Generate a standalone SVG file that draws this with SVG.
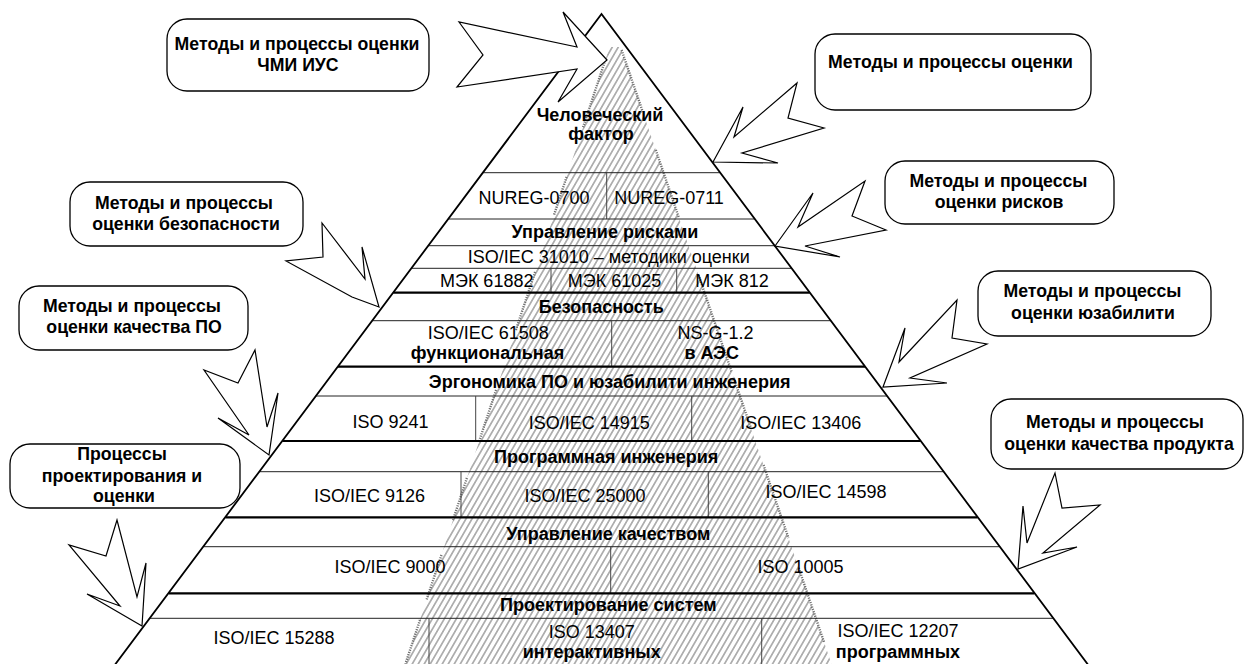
<svg xmlns="http://www.w3.org/2000/svg" width="1244" height="664" viewBox="0 0 1244 664">
<defs>
<pattern id="hp" width="5.2" height="5.2" patternUnits="userSpaceOnUse" patternTransform="rotate(30)">
<line x1="2.6" y1="0" x2="2.6" y2="5.2" stroke="#7e7e7e" stroke-width="1.1"/>
</pattern>
</defs>
<style>
text{font-family:"Liberation Sans",Arial,sans-serif;fill:#000;text-anchor:middle}
.b{font-weight:bold;font-size:18px}
.bx{font-weight:bold;font-size:17.7px}
.r{font-size:18px}
.edge{fill:none;stroke:#000;stroke-width:1.8}
.thin{stroke:#222;stroke-width:1}
.thick{stroke:#000;stroke-width:2.2}
.dv{stroke:#444;stroke-width:1}
.hb{fill:none;stroke:#707070;stroke-width:2.4;stroke-dasharray:1.2 1.2}
.box{fill:#fff;stroke:#000;stroke-width:1.3}
.arr{fill:#fff;stroke:#000;stroke-width:1.2;stroke-linejoin:miter}
</style>
<rect width="1244" height="664" fill="#fff"/>

<g id="pyramid">
<polygon points="601.5,14 111,670 1092,670" fill="#fff"/>
</g>

<g id="hatch">
<polygon points="609.6,47 620.6,47 833.6,670 403.4,670" fill="url(#hp)"/>
<line class="hb" x1="605.3" y1="60" x2="582.8" y2="128"/>
<line class="hb" x1="566.6" y1="177" x2="554.0" y2="215"/>
<line class="hb" x1="535.1" y1="272" x2="515.9" y2="330"/>
<line class="hb" x1="496.1" y1="390" x2="478.9" y2="442"/>
<line class="hb" x1="466.9" y1="478" x2="453.0" y2="520"/>
<line class="hb" x1="441.5" y1="555" x2="426.5" y2="600"/>
<line class="hb" x1="420.0" y1="620" x2="405.4" y2="664"/>
<line class="hb" x1="621.6" y1="50" x2="642.8" y2="112"/>
<line class="hb" x1="655.8" y1="150" x2="679.0" y2="218"/>
<line class="hb" x1="698.5" y1="275" x2="731.7" y2="372"/>
<line class="hb" x1="733.8" y1="378" x2="750.9" y2="428"/>
<line class="hb" x1="763.5" y1="465" x2="788.5" y2="538"/>
<line class="hb" x1="798.7" y1="568" x2="824.0" y2="642"/>
</g>

<g id="layer-human">
<line class="thin" x1="483" y1="172.7" x2="720" y2="172.7"/>
<line class="dv" x1="606.7" y1="172.7" x2="606.7" y2="219"/>
<text class="b" x="600" y="121">Человеческий</text>
<text class="b" x="601" y="140">фактор</text>
<text class="r" x="534" y="204">NUREG-0700</text>
<text class="r" x="669" y="204">NUREG-0711</text>
</g>

<g id="layer-risk">
<line class="thin" x1="448.4" y1="219" x2="754.6" y2="219"/>
<line class="thin" x1="428.4" y1="245.7" x2="774.6" y2="245.7"/>
<line class="thin" x1="411.5" y1="268.3" x2="791.5" y2="268.3"/>
<line class="dv" x1="551" y1="268.3" x2="551" y2="292.7"/>
<line class="dv" x1="676.7" y1="268.3" x2="676.7" y2="292.7"/>
<text class="b" x="605" y="237.5">Управление рисками</text>
<text class="r" x="608.7" y="263">ISO/IEC 31010 – методики оценки</text>
<text class="r" x="486.7" y="287">МЭК 61882</text>
<text class="r" x="614.5" y="287">МЭК 61025</text>
<text class="r" x="732" y="287">МЭК 812</text>
</g>

<g id="layer-safety">
<line class="thick" x1="393.3" y1="292.7" x2="809.7" y2="292.7"/>
<line class="thin" x1="372.4" y1="320.7" x2="830.6" y2="320.7"/>
<line class="dv" x1="611.7" y1="320.7" x2="611.7" y2="366.7"/>
<text class="b" x="601.3" y="312.7">Безопасность</text>
<text class="r" x="488.3" y="339">ISO/IEC 61508</text>
<text class="b" x="487.5" y="359">функциональная</text>
<text class="r" x="715.5" y="339">NS-G-1.2</text>
<text class="b" x="711.7" y="359">в АЭС</text>
</g>

<g id="layer-ergonomics">
<line class="thick" x1="338" y1="366.7" x2="865" y2="366.7"/>
<line class="thin" x1="316.1" y1="396" x2="886.9" y2="396"/>
<line class="dv" x1="475.7" y1="396" x2="475.7" y2="441"/>
<line class="dv" x1="691.7" y1="396" x2="691.7" y2="441"/>
<text class="b" x="609.7" y="388.3">Эргономика ПО и юзабилити инженерия</text>
<text class="r" x="390.5" y="428">ISO 9241</text>
<text class="r" x="589.2" y="429">ISO/IEC 14915</text>
<text class="r" x="800.8" y="429">ISO/IEC 13406</text>
</g>

<g id="layer-software">
<line class="thick" x1="282.5" y1="441" x2="920.5" y2="441"/>
<line class="thin" x1="259.6" y1="471.7" x2="943.4" y2="471.7"/>
<line class="dv" x1="461" y1="471.7" x2="461" y2="517.3"/>
<line class="dv" x1="708.3" y1="471.7" x2="708.3" y2="517.3"/>
<text class="b" x="606.2" y="463.3">Программная инженерия</text>
<text class="r" x="369.5" y="501.5">ISO/IEC 9126</text>
<text class="r" x="585" y="501.5">ISO/IEC 25000</text>
<text class="r" x="826" y="498">ISO/IEC 14598</text>
</g>

<g id="layer-quality">
<line class="thick" x1="225.5" y1="517.3" x2="977.5" y2="517.3"/>
<line class="thin" x1="203.6" y1="546.7" x2="999.4" y2="546.7"/>
<line class="dv" x1="610.7" y1="546.7" x2="610.7" y2="593.3"/>
<text class="b" x="608.3" y="540">Управление качеством</text>
<text class="r" x="390" y="573.3">ISO/IEC 9000</text>
<text class="r" x="800.5" y="573.3">ISO 10005</text>
</g>

<g id="layer-systems">
<line class="thick" x1="168.8" y1="593.3" x2="1034.2" y2="593.3"/>
<line class="thin" x1="150.1" y1="618.3" x2="1052.9" y2="618.3"/>
<line class="dv" x1="429" y1="618.3" x2="429" y2="664"/>
<line class="dv" x1="761.7" y1="618.3" x2="761.7" y2="664"/>
<text class="b" x="608.3" y="610.7">Проектирование систем</text>
<text class="r" x="274" y="644">ISO/IEC 15288</text>
<text class="r" x="591.7" y="638.3">ISO 13407</text>
<text class="b" x="591.7" y="658">интерактивных</text>
<text class="r" x="898" y="637">ISO/IEC 12207</text>
<text class="b" x="898" y="658">программных</text>
</g>

<g id="pyramid-edges">
<polyline class="edge" points="111,670 601.5,14 1092,670"/>
</g>

<g id="connectors">
<polygon class="arr" points="607,60 563,12 577,47 459,22 483,55 457,87 577,69 558,102"/>
<polygon class="arr" points="713,162 743,107 734,137 797,83 788,118 824,128 742,153 778,163"/>
<polygon class="arr" points="775,246 813,193 798,227 865,181 852,216 886,230 805,246 840,257"/>
<polygon class="arr" points="883,387 905,328 899,362 957,300 952,338 987,344 910,378 947,383"/>
<polygon class="arr" points="1018,569 1023,506 1027,543 1055,473 1062,508 1100,505 1043,553 1077,547"/>
<polygon class="arr" points="379,307 352,297 286,261 323,257 322,223 365,279 362,247"/>
<polygon class="arr" points="269,455 278,393 267,427 255,350 238,383 204,370 249,435 218,418"/>
<polygon class="arr" points="142,626 146,563 137,597 117,520 106,556 69,545 120,606 87,594"/>
</g>

<g id="box-hmi">
<rect class="box" x="167" y="19" width="262" height="72" rx="20"/>
<text class="bx" x="297" y="50">Методы и процессы оценки</text>
<text class="bx" x="298" y="71">ЧМИ ИУС</text>
</g>
<g id="box-eval">
<rect class="box" x="815" y="34" width="276" height="76" rx="20"/>
<text class="bx" x="950.5" y="68">Методы и процессы оценки</text>
</g>
<g id="box-risk">
<rect class="box" x="885" y="161" width="229" height="63" rx="20"/>
<text class="bx" x="998.5" y="187">Методы и процессы</text>
<text class="bx" x="999" y="208">оценки рисков</text>
</g>
<g id="box-usability">
<rect class="box" x="978" y="271" width="233" height="65" rx="20"/>
<text class="bx" x="1092.5" y="297">Методы и процессы</text>
<text class="bx" x="1093" y="318.5">оценки юзабилити</text>
</g>
<g id="box-product">
<rect class="box" x="991" y="399" width="252" height="70" rx="20"/>
<text class="bx" x="1115" y="428">Методы и процессы</text>
<text class="bx" x="1119" y="449.5">оценки качества продукта</text>
</g>
<g id="box-safety">
<rect class="box" x="70" y="182" width="233" height="64" rx="20"/>
<text class="bx" x="184" y="208.5">Методы и процессы</text>
<text class="bx" x="186" y="230">оценки безопасности</text>
</g>
<g id="box-swquality">
<rect class="box" x="19" y="286" width="229" height="64" rx="20"/>
<text class="bx" x="132" y="311.5">Методы и процессы</text>
<text class="bx" x="134" y="333">оценки качества ПО</text>
</g>
<g id="box-design">
<rect class="box" x="10" y="444" width="230" height="64" rx="20"/>
<text class="bx" x="122" y="460">Процессы</text>
<text class="bx" x="122" y="481.5">проектирования и</text>
<text class="bx" x="124" y="502">оценки</text>
</g>
</svg>
